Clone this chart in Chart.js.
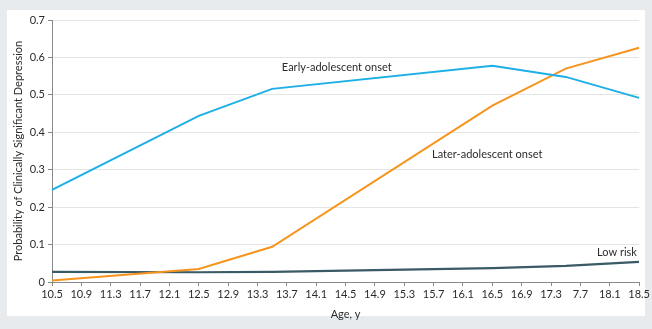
<!DOCTYPE html>
<html>
<head>
<meta charset="utf-8">
<script src="https://cdn.jsdelivr.net/npm/chart.js@4"></script>
<style>
  html, body { margin: 0; padding: 0; background: #e7ebee; }
  #panel { position: absolute; left: 7px; top: 10px; width: 638px; height: 306px; background: #fff; }
  #wrap { position: absolute; left: 0; top: 0; width: 652px; height: 329px; }
</style>
</head>
<body>
<div id="panel"></div>
<div id="wrap"><canvas id="chart" width="652" height="329"></canvas></div>
<script>
// ages where the model was evaluated
const ages = [10.5, 12.5, 13.5, 16.5, 17.5, 18.5];
const earlyOnset = [0.246, 0.444, 0.516, 0.578, 0.548, 0.492];
const laterOnset = [0.004, 0.035, 0.094, 0.471, 0.570, 0.626];
const lowRisk = [0.027, 0.026, 0.027, 0.037, 0.043, 0.054];

// x tick positions and the labels printed under them (the original prints 7.7)
const tickValues = [10.5, 10.9, 11.3, 11.7, 12.1, 12.5, 12.9, 13.3, 13.7, 14.1, 14.5,
  14.9, 15.3, 15.7, 16.1, 16.5, 16.9, 17.3, 17.7, 18.1, 18.5];
const tickLabels = ['10.5', '10.9', '11.3', '11.7', '12.1', '12.5', '12.9', '13.3', '13.7', '14.1', '14.5',
  '14.9', '15.3', '15.7', '16.1', '16.5', '16.9', '17.3', '7.7', '18.1', '18.5'];

// series labels written on the plot
const seriesLabels = [
  { text: 'Early-adolescent onset', x: 14.38, y: 0.572, align: 'center' },
  { text: 'Later-adolescent onset', x: 16.43, y: 0.34, align: 'center' },
  { text: 'Low risk', x: 18.47, y: 0.078, align: 'right' }
];

const font = 'Lato';
const textColor = '#2b2b2b';

function toPoints(vals) {
  return ages.map((a, i) => ({ x: a, y: vals[i] }));
}

const labelPlugin = {
  id: 'seriesLabels',
  afterDatasetsDraw(chart) {
    const ctx = chart.ctx;
    const xs = chart.scales.x, ys = chart.scales.y;
    ctx.save();
    ctx.font = '11px ' + font;
    ctx.fillStyle = textColor;
    ctx.textBaseline = 'middle';
    seriesLabels.forEach(l => {
      ctx.textAlign = l.align;
      ctx.fillText(l.text, xs.getPixelForValue(l.x), ys.getPixelForValue(l.y));
    });
    ctx.restore();
  }
};

new Chart(document.getElementById('chart'), {
  type: 'line',
  data: {
    datasets: [
      { label: 'Early-adolescent onset', data: toPoints(earlyOnset), borderColor: '#1eafe6', borderWidth: 2 },
      { label: 'Later-adolescent onset', data: toPoints(laterOnset), borderColor: '#f7941d', borderWidth: 2 },
      { label: 'Low risk', data: toPoints(lowRisk), borderColor: '#3a5a66', borderWidth: 2.2 }
    ]
  },
  options: {
    responsive: false,
    animation: false,
    events: [],
    elements: { point: { radius: 0 }, line: { tension: 0 } },
    layout: { padding: { left: 0, right: 12, top: 20, bottom: 8 } },
    plugins: { legend: { display: false }, tooltip: { enabled: false } },
    scales: {
      x: {
        type: 'linear',
        min: 10.5,
        max: 18.5,
        afterBuildTicks(scale) { scale.ticks = tickValues.map(v => ({ value: v })); },
        afterFit(scale) { scale.height = 39; },
        ticks: {
          autoSkip: false,
          maxRotation: 0,
          padding: 2,
          color: textColor,
          font: { family: font, size: 11 },
          callback: (v, i) => tickLabels[i]
        },
        grid: { drawOnChartArea: false, drawTicks: true, tickLength: 4, tickColor: '#888' },
        border: { color: '#888', width: 1 },
        title: { display: true, text: 'Age, y', color: textColor, font: { family: font, size: 11 }, padding: { top: 4, bottom: 0 } }
      },
      y: {
        min: 0,
        max: 0.7,
        afterFit(scale) { scale.width = 52; },
        ticks: {
          stepSize: 0.1,
          padding: 3,
          color: textColor,
          font: { family: font, size: 11 },
          callback: v => Number(v.toFixed(1)).toString()
        },
        grid: { color: '#e4e4e4', tickColor: '#888', tickLength: 4 },
        border: { color: '#888', width: 1 },
        title: { display: true, text: 'Probability of Clinically Significant Depression', color: textColor, font: { family: font, size: 11 }, padding: { top: 12, bottom: 0 } }
      }
    }
  },
  plugins: [labelPlugin]
});
</script>
</body>
</html>
